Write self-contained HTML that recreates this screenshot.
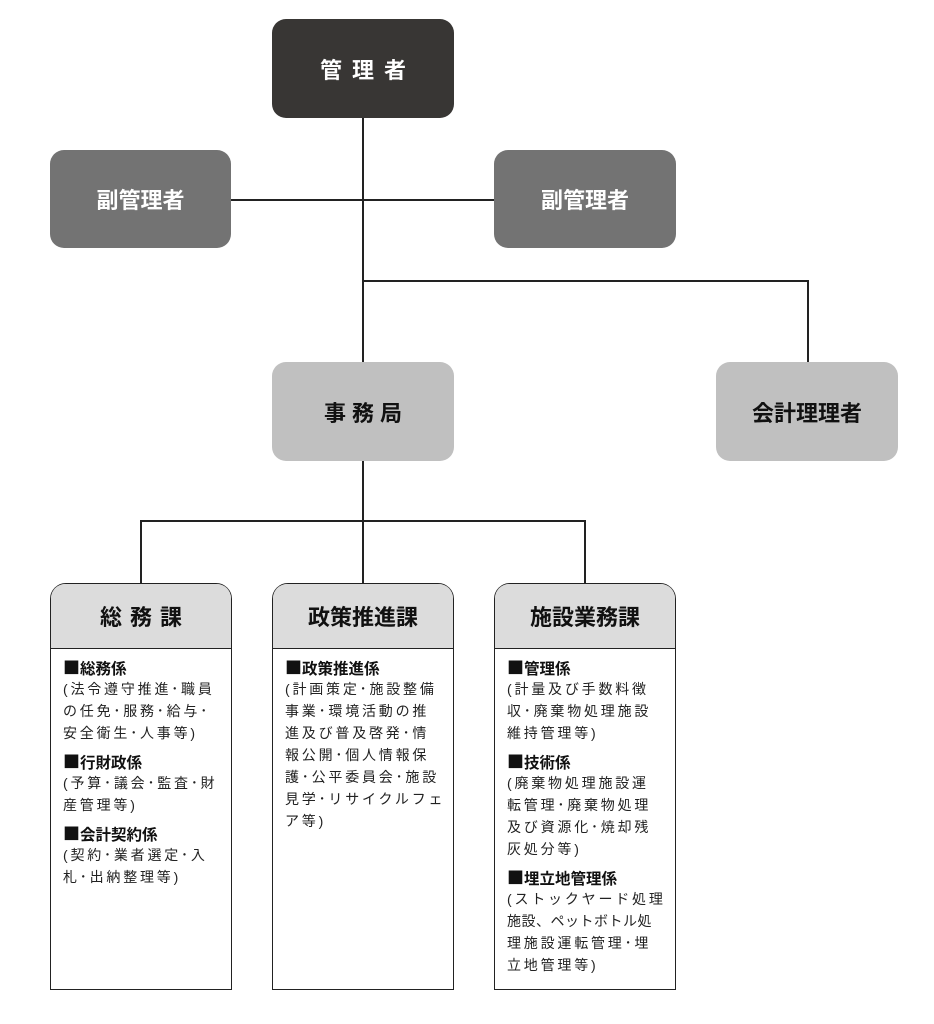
<!DOCTYPE html>
<html><head><meta charset="utf-8"><style>
body{margin:0;width:934px;height:1024px;background:#fff;position:relative;overflow:hidden;font-family:"Liberation Sans","Noto Sans CJK JP",sans-serif}
.b{position:absolute;border-radius:14px;display:flex;align-items:center;justify-content:center;font-weight:bold;font-size:22px}
.l{position:absolute;background:#222}
.c{position:absolute;border:1.5px solid #222;border-radius:16px 16px 0 0;background:#fff;box-sizing:border-box}
.h{height:64px;background:#dcdcdc;border-bottom:1.5px solid #222;border-radius:14px 14px 0 0;display:flex;align-items:center;justify-content:center;font-weight:bold;font-size:22px;color:#111}
.t{position:absolute;left:12px;top:72px;font-size:14px;line-height:22px;letter-spacing:2.8px;color:#222;white-space:nowrap}
.t b{font-weight:bold;font-size:15.5px;line-height:22px;height:22px;letter-spacing:0;color:#111;display:block;margin-top:6px}
.t b:first-child{margin-top:0}
.t b i{font-style:normal;font-family:"Noto Sans CJK JP",sans-serif;font-size:17px;line-height:22px}
</style></head><body>
<div class="l" style="left:362px;top:118px;width:1.5px;height:467px"></div>
<div class="l" style="left:231px;top:199px;width:263px;height:1.5px"></div>
<div class="l" style="left:362px;top:280px;width:446px;height:1.5px"></div>
<div class="l" style="left:807px;top:280px;width:1.5px;height:82px"></div>
<div class="l" style="left:140px;top:520px;width:446px;height:1.5px"></div>
<div class="l" style="left:140px;top:520px;width:1.5px;height:64px"></div>
<div class="l" style="left:584px;top:520px;width:1.5px;height:64px"></div>

<div class="b" style="left:272px;top:19px;width:182px;height:99px;background:#383634;color:#fff;letter-spacing:10px;padding-left:10px;box-sizing:border-box">管理者</div>
<div class="b" style="left:50px;top:150px;width:181px;height:98px;background:#737373;color:#fff">副管理者</div>
<div class="b" style="left:494px;top:150px;width:182px;height:98px;background:#737373;color:#fff">副管理者</div>
<div class="b" style="left:272px;top:362px;width:182px;height:99px;background:#c0c0c0;color:#111;letter-spacing:6px;padding-left:6px;box-sizing:border-box">事務局</div>
<div class="b" style="left:716px;top:362px;width:182px;height:99px;background:#c0c0c0;color:#111">会計理理者</div>

<div class="c" style="left:50px;top:583px;width:182px;height:407px"><div class="h" style="letter-spacing:8px;padding-left:8px">総務課</div>
<div class="t"><b><i>■</i>総務係</b>(法令遵守推進･職員<br>の任免･服務･給与･<br>安全衛生･人事等)<b><i>■</i>行財政係</b>(予算･議会･監査･財<br>産管理等)<b><i>■</i>会計契約係</b>(契約･業者選定･入<br>札･出納整理等)</div></div>

<div class="c" style="left:272px;top:583px;width:182px;height:407px"><div class="h">政策推進課</div>
<div class="t"><b><i>■</i>政策推進係</b>(計画策定･施設整備<br>事業･環境活動の推<br>進及び普及啓発･情<br>報公開･個人情報保<br>護･公平委員会･施設<br>見学･リサイクルフェ<br>ア等)</div></div>

<div class="c" style="left:494px;top:583px;width:182px;height:407px"><div class="h">施設業務課</div>
<div class="t"><b><i>■</i>管理係</b>(計量及び手数料徴<br>収･廃棄物処理施設<br>維持管理等)<b><i>■</i>技術係</b>(廃棄物処理施設運<br>転管理･廃棄物処理<br>及び資源化･焼却残<br>灰処分等)<b><i>■</i>埋立地管理係</b>(ストックヤード処理<br><span style="letter-spacing:0.5px">施設、ペットボトル処</span><br>理施設運転管理･埋<br>立地管理等)</div></div>
</body></html>
